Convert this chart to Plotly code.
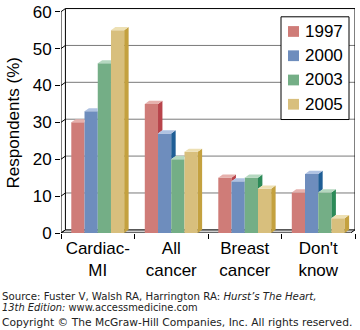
import plotly.graph_objects as go

# Survey: perceived leading cause of death among women
categories = ["Cardiac-<br>MI", "All<br>cancer", "Breast<br>cancer", "Don't<br>know"]
years = ["1997", "2000", "2003", "2005"]
v1997 = [30, 35, 15, 11]
v2000 = [33, 27, 14, 16]
v2003 = [46, 20, 15, 11]
v2005 = [55, 22, 12, 4]
y_ticks = [0, 10, 20, 30, 40, 50, 60]

series = [v1997, v2000, v2003, v2005]
front = ["#cf7c78", "#6e8dbd", "#74ae86", "#d8bf7d"]
side = ["#b8444b", "#1f5e96", "#2c8a58", "#c4a13f"]
top = ["#e6b1ad", "#afc2e2", "#b5d8c0", "#ede0b4"]

FONT = "Liberation Sans, Arial, sans-serif"
BAR_W = 0.18          # width of one bar in category units
GROUP = BAR_W * 4
DX, DY = 0.06, 0.85   # depth offset of the pseudo-3D faces (x units, y units)

# figure geometry (pixels) used to place paper-referenced items
W, H = 360, 330
ML, MR, MT, MB = 61, 5, 3, 97
PW, PH = W - ML - MR, H - MT - MB


def px(x):
    return (x - ML) / PW


def py(y):
    return (H - MB - y) / PH


fig = go.Figure()
xs = list(range(len(categories)))

# front faces
for j, (name, vals) in enumerate(zip(years, series)):
    fig.add_trace(go.Bar(
        x=xs, y=vals, name=name, marker=dict(color=front[j], line=dict(width=0)),
        showlegend=False, hoverinfo="skip"))

# side and top faces, clipped where the neighbouring bar hides them
for j, vals in enumerate(series):
    sx, sy, tx, ty = [], [], [], []
    for i, v in enumerate(vals):
        left = i - GROUP / 2 + j * BAR_W
        right = left + BAR_W
        nxt = series[j + 1][i] if j + 1 < len(series) else 0
        if v > nxt:
            sx += [right, right + DX, right + DX, right, right, None]
            sy += [nxt, nxt + DY, v + DY, v, nxt, None]
            tx += [left, left + DX, right + DX, right, left, None]
        else:
            tx += [left, left + DX, right, right, left, None]
        ty += [v, v + DY, v + DY, v, v, None]
    if sx:
        fig.add_trace(go.Scatter(x=sx, y=sy, mode="lines", fill="toself",
                                 fillcolor=side[j], line=dict(width=0),
                                 showlegend=False, hoverinfo="skip"))
    fig.add_trace(go.Scatter(x=tx, y=ty, mode="lines", fill="toself",
                             fillcolor=top[j], line=dict(width=0),
                             showlegend=False, hoverinfo="skip"))

x0, x1 = -0.5, len(categories) - 0.5
ymax = y_ticks[-1]
shapes = []
# floor
shapes.append(dict(type="path", xref="x", yref="y", layer="below",
                   path=f"M{x0},0 L{x1 - DX},0 L{x1},{DY} L{x0 + DX},{DY} Z",
                   fillcolor="#cfcfcf", line=dict(color="black", width=1)))
# back-wall gridlines and the short diagonals to the front axis
for t in y_ticks[1:-1]:
    shapes.append(dict(type="line", xref="x", yref="y", layer="below",
                       x0=x0 + DX, x1=x1, y0=t + DY, y1=t + DY,
                       line=dict(color="#7a7a7a", width=1)))
for t in y_ticks:
    shapes.append(dict(type="line", xref="x", yref="y", layer="below",
                       x0=x0, x1=x0 + DX, y0=t, y1=t + DY,
                       line=dict(color="black", width=1)))
# back wall outline
shapes.append(dict(type="path", xref="x", yref="y", layer="below",
                   path=f"M{x0 + DX},{DY} L{x0 + DX},{ymax + DY} L{x1},{ymax + DY} L{x1},{DY}",
                   line=dict(color="black", width=1)))
# front value axis
shapes.append(dict(type="line", xref="x", yref="y", layer="above",
                   x0=x0, x1=x0, y0=0, y1=ymax, line=dict(color="black", width=1)))

# legend box with colour keys
shapes.append(dict(type="rect", xref="paper", yref="paper", layer="above",
                   x0=px(281), x1=px(349), y0=py(117), y1=py(12),
                   fillcolor="white", line=dict(color="black", width=1)))
annotations = []
for j, name in enumerate(years):
    cy = 27 + j * 24.8
    shapes.append(dict(type="rect", xref="paper", yref="paper", layer="above",
                       x0=px(288), x1=px(299), y0=py(cy + 5.5), y1=py(cy - 5.5),
                       fillcolor=front[j], line=dict(width=0)))
    annotations.append(dict(text=name, xref="paper", yref="paper",
                            x=px(303), y=py(cy), xanchor="left", yanchor="middle",
                            showarrow=False,
                            font=dict(family=FONT, size=17, color="black")))

annotations.append(dict(text="Respondents (%)", textangle=-90, xref="paper", yref="paper",
                        x=px(13), y=py(121), xanchor="center", yanchor="middle",
                        showarrow=False, font=dict(family=FONT, size=17, color="black")))
src_lines = [
    ("Source: Fuster V, Walsh RA, Harrington RA: <i>Hurst\u2019s The Heart,</i>", 298, 10.2),
    ("<i>13th Edition:</i> www.accessmedicine.com", 309, 9.9),
    ("Copyright \u00a9 The McGraw-Hill Companies, Inc. All rights reserved.", 324, 10.7),
]
for txt, yy, fs in src_lines:
    annotations.append(dict(text=txt, xref="paper", yref="paper",
                            x=px(0), y=py(yy),
                            xanchor="left", yanchor="middle", showarrow=False,
                            font=dict(family="DejaVu Sans, Verdana, sans-serif",
                                      size=fs, color="#222")))

fig.update_layout(
    width=W, height=H,
    margin=dict(l=ML, r=MR, t=MT, b=MB),
    paper_bgcolor="white", plot_bgcolor="white",
    barmode="group", bargap=0.28, bargroupgap=0,
    font=dict(family=FONT, size=17, color="black"),
    shapes=shapes, annotations=annotations,
    showlegend=False,
    xaxis=dict(range=[x0, x1], tickmode="array", tickvals=xs, ticktext=categories,
               showgrid=False, zeroline=False, showline=False, ticks="",
               ticklabelstandoff=3, ticklabeloverflow="allow",
               minor=dict(tickvals=[x0 + k for k in range(len(categories) + 1)],
                          ticks="outside", ticklen=5, tickcolor="black", showgrid=False),
               tickfont=dict(family=FONT, size=17, color="black")),
    yaxis=dict(range=[0, 61], tickmode="array", tickvals=y_ticks,
               showgrid=False, zeroline=False, showline=False,
               ticks="outside", ticklen=5, tickcolor="black",
               ticklabeloverflow="allow",
               tickfont=dict(family=FONT, size=17, color="black")),
)

fig.write_html("out.html")
